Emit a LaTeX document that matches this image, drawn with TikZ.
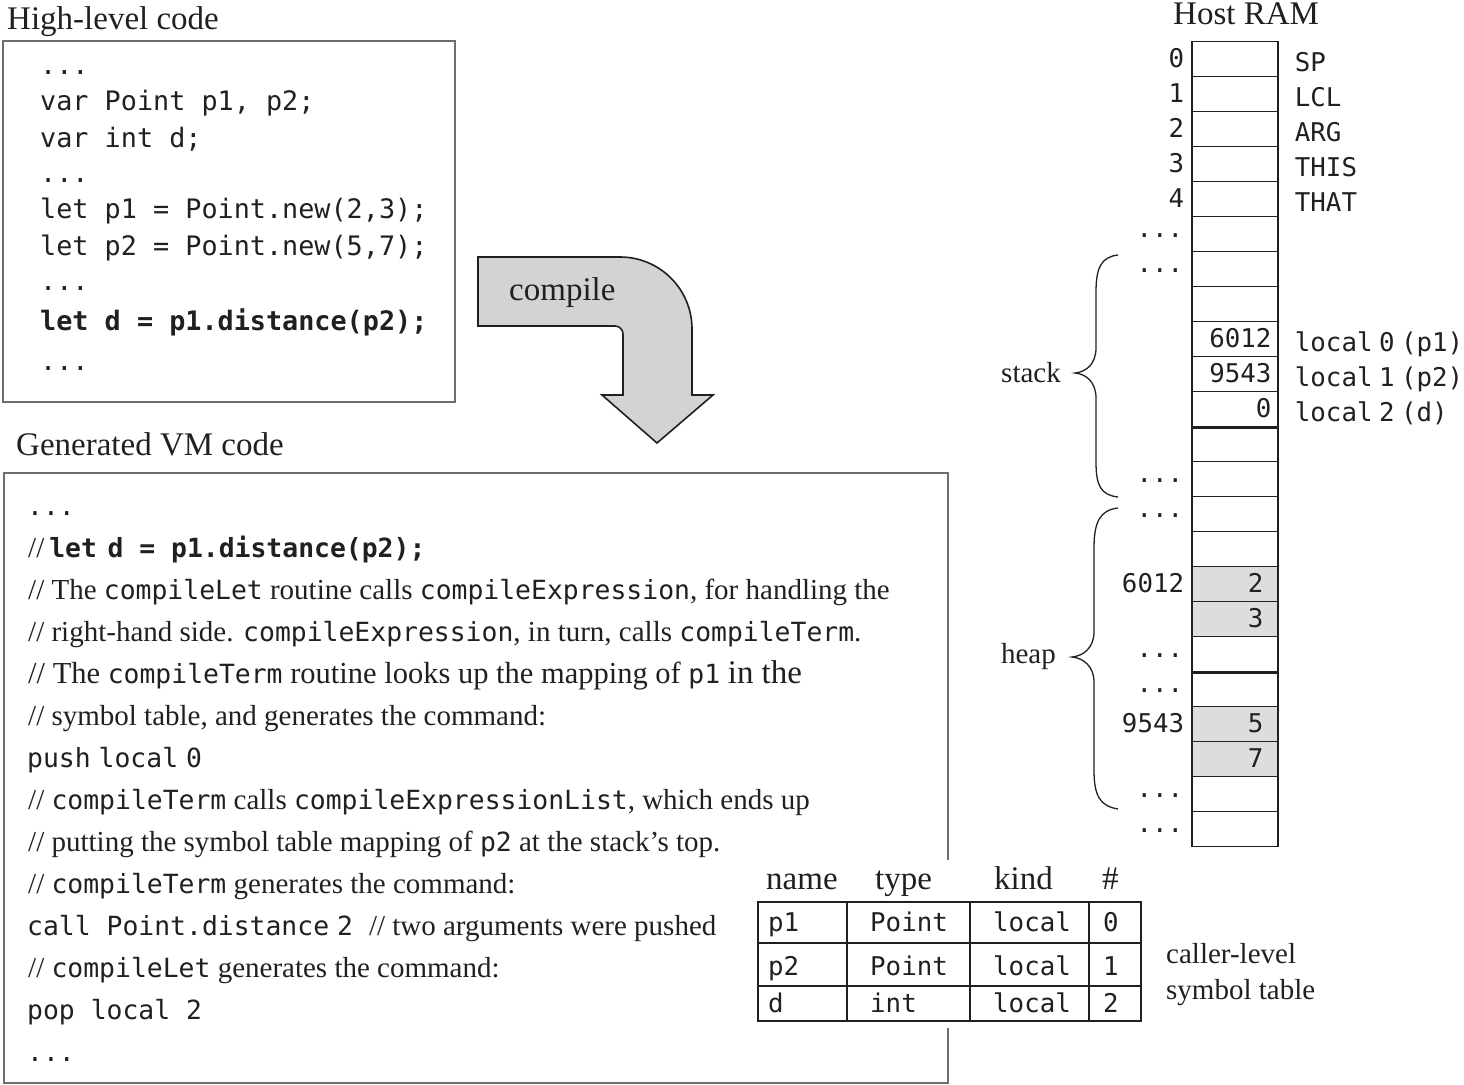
\documentclass[tikz,border=0pt]{standalone}
\usepackage{fontspec}
\setmainfont{Liberation Serif}
\newfontfamily\mono{DejaVu Sans Mono}
\definecolor{ink}{HTML}{231F20}
\definecolor{frame}{HTML}{6D6E71}
\definecolor{cellfill}{HTML}{DCDDDE}
\definecolor{arrowfill}{HTML}{D1D3D4}
\newcommand\mtt[1]{{\mono\fontsize{26.4}{30}\selectfont #1}}
\tikzset{
  title/.style={font=\fontsize{33}{38}\selectfont, text=ink, inner sep=0, anchor=base west},
  hlcode/.style={font=\mono\fontsize{26.8}{30}\selectfont, text=ink, inner sep=0, anchor=base west},
  vmline/.style={font=\fontsize{29}{34}\selectfont, text=ink, inner sep=0, anchor=base west},
  ramtxt/.style={font=\mono\fontsize{25.8}{30}\selectfont, text=ink, inner sep=0},
  ramcell/.style={draw=ink, line width=1.4, minimum width=86, minimum height=35, inner sep=0},
  framebox/.style={draw=frame, line width=2.2, anchor=north west, inner sep=0},
  tcell/.style={draw=ink, line width=1.8, anchor=north west, inner sep=0},
  ttxt/.style={font=\mono\fontsize{25.8}{30}\selectfont, text=ink, inner sep=0, anchor=base west},
  thead/.style={font=\fontsize{33}{38}\selectfont, text=ink, inner sep=0, anchor=base west},
  brace/.style={draw=ink, line width=1.3},
}
\begin{document}
\begin{tikzpicture}[x=1pt,y=-1pt]
\useasboundingbox (0,0) rectangle (1464,1084);

% ---------- high-level source ----------
\node[title] (hltitle) at (7,29) {High-level code};
\node[framebox, minimum width=452, minimum height=361] (hlbox) at (2,40) {};
\node[hlcode] (hl1) at (40,74)  {...};
\node[hlcode] (hl2) at (40,110) {var Point p1, p2;};
\node[hlcode] (hl3) at (40,147) {var int d;};
\node[hlcode] (hl4) at (40,182) {...};
\node[hlcode] (hl5) at (40,218) {let p1 = Point.new(2,3);};
\node[hlcode] (hl6) at (40,255) {let p2 = Point.new(5,7);};
\node[hlcode] (hl7) at (40,290) {...};
\node[hlcode, font=\mono\bfseries\fontsize{26.8}{30}\selectfont] (hl8) at (40,330) {let d = p1.distance(p2);};
\node[hlcode] (hl9) at (40,370) {...};

% ---------- compile arrow ----------
\filldraw[fill=arrowfill, draw=ink, line width=1.6, line join=miter]
  (478,257) -- (620,257)
  .. controls (659.8,257) and (692,289.2) .. (692,329)
  -- (692,395) -- (713,395) -- (657,443) -- (602,395) -- (623,395) -- (623,334)
  .. controls (623,329.6) and (619.4,326) .. (615,326)
  -- (478,326) -- cycle;
\node[title] (compile) at (509,300) {compile};

% ---------- generated VM code ----------
\node[title] (vmtitle) at (16,455) {Generated VM code};
\node[framebox, minimum width=944, minimum height=610] (vmbox) at (3,472) {};
\node[vmline] (vm0)  at (27,515) {\mtt{...}};
\node[vmline] (vm1)  at (28,557) {//\hspace{5pt}{\mono\bfseries\fontsize{26.4}{30}\selectfont let\hspace{0.4em}d = p1.distance(p2);}};
\node[vmline] (vm2)  at (28,599) {// The \mtt{compileLet} routine calls \mtt{compileExpression}, for handling the};
\node[vmline] (vm3)  at (28,641) {// right-hand side. \mtt{compileExpression}, in turn, calls \mtt{compileTerm}.};
\node[vmline, font=\fontsize{30.5}{34}\selectfont] (vm4)  at (28,683) {// The \mtt{compileTerm} routine looks up the mapping of \mtt{p1} {\fontsize{33}{36}\selectfont in the}};
\node[vmline] (vm5)  at (28,725) {// symbol table, and generates the command:};
\node[vmline] (vm6)  at (27,767) {\mtt{push\hspace{0.3em}local\hspace{0.3em}0}};
\node[vmline] (vm7)  at (28,809) {// \mtt{compileTerm} calls \mtt{compileExpressionList}, which ends up};
\node[vmline] (vm8)  at (28,851) {// putting the symbol table mapping of \mtt{p2} at the stack’s top.};
\node[vmline] (vm9)  at (28,893) {// \mtt{compileTerm} generates the command:};
\node[vmline] (vm10) at (27,935) {\mtt{call Point.distance\hspace{0.3em}2}\hspace{16pt}// two arguments were pushed};
\node[vmline] (vm11) at (28,977) {// \mtt{compileLet} generates the command:};
\node[vmline] (vm12) at (27,1019) {\mtt{pop local 2}};
\node[vmline] (vm13) at (27,1061) {\mtt{...}};

% ---------- caller-level symbol table ----------
\fill[white] (750,860) rectangle (1146,1028);
\foreach \y/\h/\r in {901/41/1, 942/43/2, 985/35/3}
  \foreach \x/\w/\c in {757/89/1, 846/123/2, 969/119/3, 1088/52/4}
    \node[tcell, minimum width=\w, minimum height=\h] (t\r\c) at (\x,\y) {};
\node[thead] (hname) at (766,889)  {name};
\node[thead] (htype) at (875,889)  {type};
\node[thead] (hkind) at (994,889)  {kind};
\node[thead] (hnum)  at (1102,889) {\#};
\node[ttxt] at (768,931)  {p1};
\node[ttxt] at (870,931)  {Point};
\node[ttxt] at (993,931)  {local};
\node[ttxt] at (1103,931) {0};
\node[ttxt] at (768,975)  {p2};
\node[ttxt] at (870,975)  {Point};
\node[ttxt] at (993,975)  {local};
\node[ttxt] at (1103,975) {1};
\node[ttxt] at (768,1012) {d};
\node[ttxt] at (870,1012) {int};
\node[ttxt] at (993,1012) {local};
\node[ttxt] at (1103,1012) {2};
\node[vmline] (cl1) at (1166,963)  {caller-level};
\node[vmline] (cl2) at (1166,999)  {symbol table};

% ---------- host RAM ----------
\node[title] (ramtitle) at (1173,24) {Host RAM};
\foreach \k in {0,...,14,17,18,21,22}
  \node[ramcell] (c\k) at (1235,{59+35*\k}) {};
\foreach \k in {15,16,19,20}
  \node[ramcell, fill=cellfill] (c\k) at (1235,{59+35*\k}) {};
\draw[ink, line width=2.6] (c10.south west) -- (c10.south east);
\draw[ink, line width=2.6] (c17.south west) -- (c17.south east);

% addresses on the left
\foreach \k/\t in {0/0,1/1,2/2,3/3,4/4,15/6012,19/9543}
  \node[ramtxt, anchor=base east, xshift=-7pt, yshift=-8.5pt] at (c\k.west) {\t};
\foreach \k in {5,6,12,13,17,18,21,22}
  \node[ramtxt, anchor=base east, xshift=-8pt, yshift=-3pt] at (c\k.west) {...};
% cell contents
\foreach \k/\t in {8/6012,9/9543,10/0}
  \node[ramtxt, anchor=base east, xshift=-7pt, yshift=-8.5pt] at (c\k.east) {\t};
\foreach \k/\t in {15/2,16/3,19/5,20/7}
  \node[ramtxt, anchor=base east, xshift=-15pt, yshift=-8.5pt] at (c\k.east) {\t};
% register and segment names on the right
\foreach \k/\t in {0/SP,1/LCL,2/ARG,3/THIS,4/THAT}
  \node[ramtxt, anchor=base west, xshift=16pt, yshift=-12pt] at (c\k.east) {\t};
\node[ramtxt, anchor=base west, xshift=16pt, yshift=-12pt] (l0) at (c8.east)  {local\hspace{0.25em}0\hspace{0.25em}(p1)};
\node[ramtxt, anchor=base west, xshift=16pt, yshift=-12pt] (l1) at (c9.east)  {local\hspace{0.25em}1\hspace{0.25em}(p2)};
\node[ramtxt, anchor=base west, xshift=16pt, yshift=-12pt] (l2) at (c10.east) {local\hspace{0.25em}2\hspace{0.25em}(d)};

% stack and heap braces
\draw[brace] (1118,255) .. controls (1101,257) and (1096,268) .. (1096,292)
  -- (1096,348) .. controls (1096,364) and (1086,372) .. (1075,373)
  .. controls (1086,374) and (1096,382) .. (1096,398)
  -- (1096,462) .. controls (1096,486) and (1101,495) .. (1118,497);
\node[vmline, anchor=base east] (stack) at (1061,382) {stack};
\draw[brace] (1118,508) .. controls (1100,510) and (1094,522) .. (1094,548)
  -- (1094,632) .. controls (1094,648) and (1083,656) .. (1072,657)
  .. controls (1083,658) and (1094,666) .. (1094,682)
  -- (1094,770) .. controls (1094,796) and (1100,806) .. (1118,809);
\node[vmline, anchor=base east] (heap) at (1056,663) {heap};
\end{tikzpicture}
\end{document}
